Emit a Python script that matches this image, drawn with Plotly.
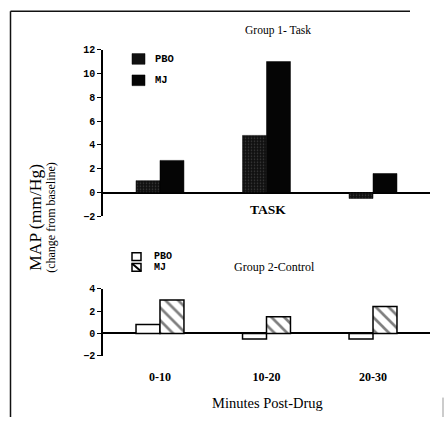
import plotly.graph_objects as go

# Mean arterial pressure change from baseline (mm/Hg) by period after dosing
categories = ["0-10", "10-20", "20-30"]
series_names = ["PBO", "MJ"]
task_pbo = [1.0, 4.8, -0.5]
task_mj = [2.7, 11.0, 1.6]
control_pbo = [0.8, -0.5, -0.5]
control_mj = [3.0, 1.5, 2.4]

W, H = 444, 424
SERIF = "Liberation Serif, Times New Roman, serif"
MONO = "Liberation Mono, Courier New, monospace"


def px(x):
    return x / W


def py(y):
    return 1 - y / H


fig = go.Figure()

# Group 1 (task): solid dark bars, placebo with a grey stipple
fig.add_trace(go.Bar(
    x=categories, y=task_pbo, name=series_names[0], xaxis="x", yaxis="y",
    marker=dict(color="#111111", line=dict(color="#000000", width=0.5),
                pattern=dict(shape=".", fgcolor="#6a6a6a", bgcolor="#111111",
                             size=3, solidity=0.2)),
    showlegend=False,
))
fig.add_trace(go.Bar(
    x=categories, y=task_mj, name=series_names[1], xaxis="x", yaxis="y",
    marker=dict(color="#050505", line=dict(color="#000000", width=0.5)),
    showlegend=False,
))

# Group 2 (control): open bars, drug bars hatched
fig.add_trace(go.Bar(
    x=categories, y=control_pbo, name=series_names[0], xaxis="x2", yaxis="y2",
    marker=dict(color="#ffffff", line=dict(color="#000000", width=1.5)),
    showlegend=False,
))
fig.add_trace(go.Bar(
    x=categories, y=control_mj, name=series_names[1], xaxis="x2", yaxis="y2",
    marker=dict(color="#ffffff", line=dict(color="#000000", width=1.5),
                pattern=dict(shape="\\", fgcolor="#000000", bgcolor="#ffffff",
                             size=9, solidity=0.3)),
    showlegend=False,
))

x_domain = [px(103), px(430)]
x_range = [-0.535, 2.535]

yaxis_common = dict(
    showline=True, linecolor="#000000", linewidth=1.5,
    ticks="outside", ticklen=4, tickwidth=1.3, tickcolor="#000000",
    tickfont=dict(family=MONO, size=10, color="#000000", weight="bold"),
    showgrid=False, zeroline=True, zerolinecolor="#000000", zerolinewidth=1.5,
    dtick=2, fixedrange=True,
)

fig.update_layout(
    width=W, height=H, autosize=False,
    margin=dict(l=0, r=0, t=0, b=0),
    paper_bgcolor="#ffffff", plot_bgcolor="rgba(0,0,0,0)",
    barmode="group", bargap=0.55, bargroupgap=0,
    xaxis=dict(domain=x_domain, range=x_range, anchor="y",
               showline=False, showticklabels=False, ticks="", showgrid=False,
               zeroline=False, fixedrange=True),
    xaxis2=dict(domain=x_domain, range=x_range, anchor="y2", matches="x",
                showline=False, showgrid=False, zeroline=False,
                ticks="outside", ticklen=10, tickcolor="rgba(0,0,0,0)",
                tickfont=dict(family=SERIF, size=12, color="#000000"),
                tickvals=categories,
                ticktext=[f"<b>{c}</b>" for c in categories],
                fixedrange=True),
    yaxis=dict(domain=[py(217.5), py(46)], range=[-2, 12], **yaxis_common),
    yaxis2=dict(domain=[py(361), py(292)], range=[-2, 4], **yaxis_common),
)

annotations = [
    dict(text="Group 1- Task", x=px(278), y=py(26), font=dict(family=SERIF, size=11.5)),
    dict(text="<b>TASK</b>", x=px(268), y=py(210), font=dict(family=SERIF, size=13.5)),
    dict(text="Group 2-Control", x=px(274), y=py(270), font=dict(family=SERIF, size=12)),
    dict(text="Minutes Post-Drug", x=px(267), y=py(410), font=dict(family=SERIF, size=14.5)),
    dict(text="MAP (mm/Hg)", x=px(35), y=py(219), textangle=-90,
         font=dict(family=SERIF, size=17.5)),
    dict(text="(change from baseline)", x=px(51), y=py(219), textangle=-90,
         font=dict(family=SERIF, size=12)),
    # legend labels
    dict(text=series_names[0], x=px(153), y=py(55.5), xanchor="left",
         font=dict(family=MONO, size=10.5, weight="bold")),
    dict(text=series_names[1], x=px(153), y=py(77.5), xanchor="left",
         font=dict(family=MONO, size=10.5, weight="bold")),
    dict(text=series_names[0], x=px(152), y=py(259), xanchor="left",
         font=dict(family=MONO, size=10, weight="bold")),
    dict(text=series_names[1], x=px(152), y=py(270), xanchor="left",
         font=dict(family=MONO, size=10, weight="bold")),
]
for a in annotations:
    a.setdefault("xanchor", "center")
    a.setdefault("yanchor", "middle")
    a["xref"] = "paper"
    a["yref"] = "paper"
    a["showarrow"] = False
    a["font"]["color"] = "#000000"
fig.update_layout(annotations=annotations)

shapes = [
    # legend keys, task group
    dict(type="rect", x0=px(132), x1=px(145), y0=py(61), y1=py(50),
         fillcolor="#111111", line=dict(color="#000000", width=0.5)),
    dict(type="rect", x0=px(132), x1=px(145), y0=py(83), y1=py(72),
         fillcolor="#050505", line=dict(color="#000000", width=0.5)),
    # legend keys, control group
    dict(type="rect", x0=px(132), x1=px(141), y0=py(263), y1=py(255),
         fillcolor="#ffffff", line=dict(color="#000000", width=1.5)),
    dict(type="rect", x0=px(132), x1=px(141), y0=py(274), y1=py(266),
         fillcolor="#ffffff", line=dict(color="#000000", width=1.5)),
    dict(type="line", x0=px(132), x1=px(141), y0=py(266), y1=py(274),
         line=dict(color="#000000", width=2)),
    # page frame
    dict(type="line", x0=px(10.5), x1=px(410), y0=py(6.5), y1=py(6.5),
         line=dict(color="#111111", width=1.5)),
    dict(type="line", x0=px(10.5), x1=px(10.5), y0=py(6.5), y1=py(424),
         line=dict(color="#111111", width=1.5)),
    dict(type="line", x0=px(443), x1=px(443), y0=py(404), y1=py(424),
         line=dict(color="#999999", width=1)),
]
for s in shapes:
    s["xref"] = "paper"
    s["yref"] = "paper"
fig.update_layout(shapes=shapes)

fig.write_html("out.html")
